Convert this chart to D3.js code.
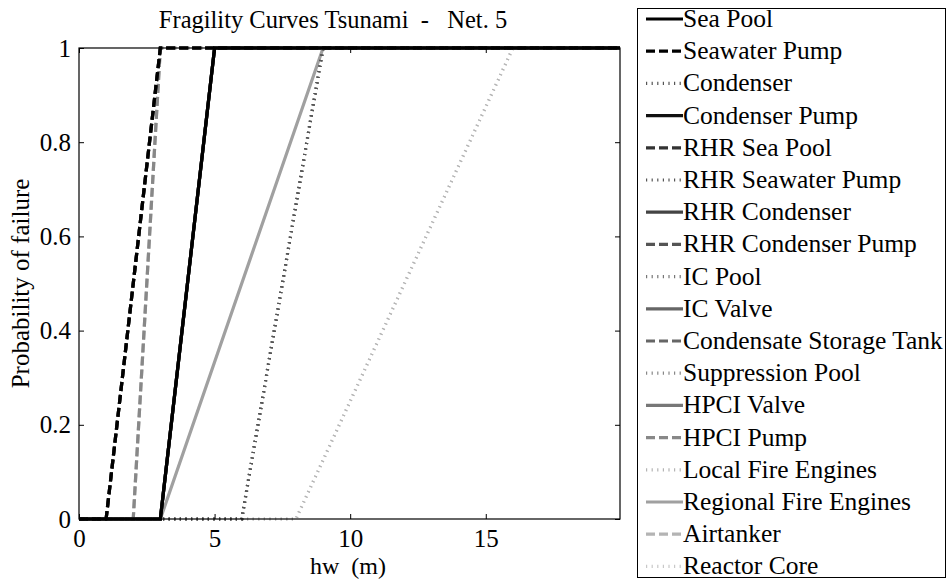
<!DOCTYPE html>
<html><head><meta charset="utf-8">
<script src="https://cdn.jsdelivr.net/npm/d3@7"></script>
<style>body{margin:0;background:#fff}svg{display:block}</style>
</head><body><svg id="c" width="949" height="580"></svg>
<script>
// ---- data ----
const components = ["Sea Pool","Seawater Pump","Condenser","Condenser Pump","RHR Sea Pool","RHR Seawater Pump","RHR Condenser","RHR Condenser Pump","IC Pool","IC Valve","Condensate Storage Tank","Suppression Pool","HPCI Valve","HPCI Pump","Local Fire Engines","Regional Fire Engines","Airtanker","Reactor Core"];
const hwZero = [3,1,6,3,1,6,3,1,6,3,1,6,3,2,8,3,2,8];   // hw where failure probability leaves 0
const hwOne  = [5,3,9,5,3,9,5,3,9,5,3,9,5,3,16,9,3,16]; // hw where failure probability reaches 1
const xTicks = [0,5,10,15];
const yTicks = [0,0.2,0.4,0.6,0.8,1];
const xMax = 19.95;

// ---- styles ----
const FONT = '"Liberation Serif","Times New Roman",serif';
const greys = ["#000","#000","#555","#111","#333","#555","#444","#555","#777","#666","#666","#888","#777","#888","#b4b4b4","#a0a0a0","#b4b4b4","#c8c8c8"];
const dashes = ["none","9,4","1.2,4.4"];

const svg = d3.select("#c");
const m = {l:79, t:48, r:620, b:519};
const x = d3.scaleLinear().domain([0,xMax]).range([m.l,m.r]);
const y = d3.scaleLinear().domain([0,1]).range([m.b,m.t]);

const line = d3.line().x(d=>x(d[0])).y(d=>y(d[1]));
const series = components.map((n,i)=>({name:n, pts:[[0,0],[hwZero[i],0],[hwOne[i],1],[xMax,1]], color:greys[i], dash:dashes[i%3]}));

svg.append("g").selectAll("path").data(series.slice().reverse()).join("path")
  .attr("d", d=>line(d.pts)).attr("fill","none")
  .attr("stroke", d=>d.color).attr("stroke-width",3.2)
  .attr("stroke-dasharray", d=>d.dash);

// frame
svg.append("rect").attr("x",m.l).attr("y",m.t).attr("width",m.r-m.l).attr("height",m.b-m.t)
  .attr("fill","none").attr("stroke","#000").attr("stroke-width",1.2);

const fs = "25px";
// axes
const xa = svg.append("g").attr("transform",`translate(0,${m.b})`)
  .call(d3.axisBottom(x).tickValues(xTicks).tickFormat(d3.format("d")).tickSizeInner(-5).tickSizeOuter(0).tickPadding(10));
const xaTop = svg.append("g").attr("transform",`translate(0,${m.t})`)
  .call(d3.axisTop(x).tickValues(xTicks).tickFormat("").tickSizeInner(-5).tickSizeOuter(0));
const ya = svg.append("g").attr("transform",`translate(${m.l},0)`)
  .call(d3.axisLeft(y).tickValues(yTicks).tickFormat(d=>d===0||d===1?d3.format("d")(d):d3.format(".1f")(d)).tickSizeInner(-5).tickSizeOuter(0).tickPadding(8));
const yaR = svg.append("g").attr("transform",`translate(${m.r},0)`)
  .call(d3.axisRight(y).tickValues(yTicks).tickFormat("").tickSizeInner(-5).tickSizeOuter(0));
[xa,xaTop,ya,yaR].forEach(g=>{g.select(".domain").remove(); g.selectAll("line").attr("stroke","#000");
  g.selectAll("text").style("font-family",FONT).style("font-size",fs).attr("fill","#000");});

svg.append("text").attr("x",333).attr("y",28).attr("text-anchor","middle")
  .style("font-family",FONT).style("font-size","24.5px").style("white-space","pre")
  .text("Fragility Curves Tsunami  -   Net. 5");
svg.append("text").attr("x",348).attr("y",574).attr("text-anchor","middle")
  .style("font-family",FONT).style("font-size","24px").style("white-space","pre").text("hw  (m)");
svg.append("text").attr("transform",`translate(29,${(m.t+m.b)/2}) rotate(-90)`).attr("text-anchor","middle")
  .style("font-family",FONT).style("font-size","25px").text("Probability of failure");

// legend
const lg = svg.append("g");
lg.append("rect").attr("x",637.5).attr("y",8.5).attr("width",308).attr("height",569)
  .attr("fill","#fff").attr("stroke","#000").attr("stroke-width",1);
const items = lg.selectAll("g.it").data(series).join("g").attr("class","it")
  .attr("transform",(d,i)=>`translate(0,${19+i*32.2})`);
items.append("line").attr("x1",646).attr("x2",683).attr("y1",0).attr("y2",0)
  .attr("stroke",d=>d.color).attr("stroke-width",3.2).attr("stroke-dasharray",d=>d.dash);
items.append("text").attr("x",683).attr("y",8).style("font-family",FONT).style("font-size","25.5px").text(d=>d.name);
</script></body></html>
